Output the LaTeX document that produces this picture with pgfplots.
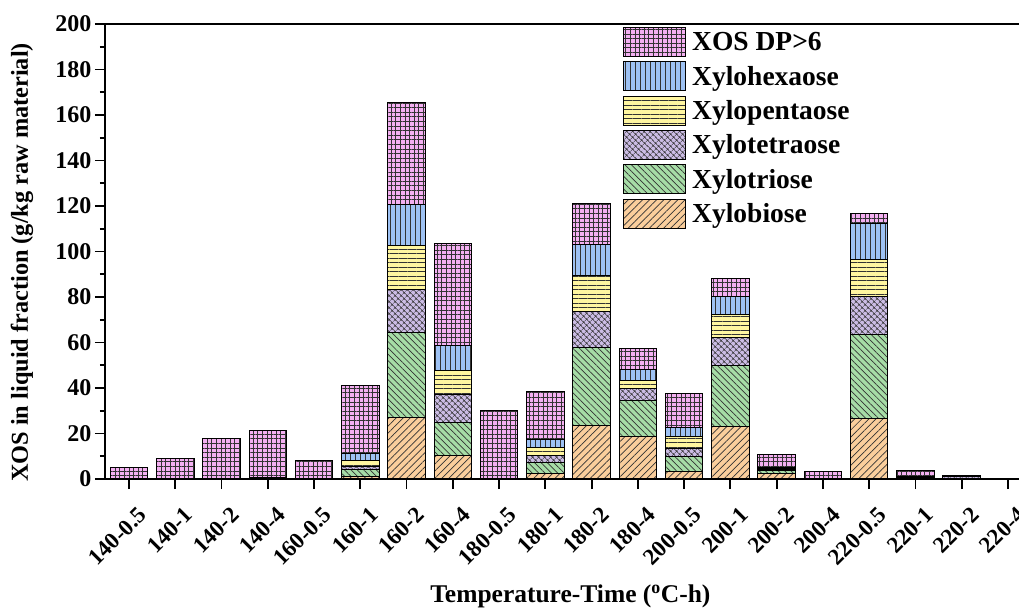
\documentclass[border=0pt]{standalone}
\usepackage{fontspec}
\setmainfont{Liberation Serif}
\usepackage{pgfplots}
\pgfplotsset{compat=1.18}
\usepackage{pgfplotstable}
\usetikzlibrary{patterns.meta}

\definecolor{cpink}{RGB}{244,176,242}
\definecolor{cblue}{RGB}{158,194,244}
\definecolor{cyellow}{RGB}{255,246,160}
\definecolor{cpurple}{RGB}{203,188,228}
\definecolor{cgreen}{RGB}{166,220,166}
\definecolor{corange}{RGB}{250,206,156}

\pgfplotstableread{
x ob gr pu ye bl pk
0 0 0 0 0 0 5.0
1 0 0 0 0 0 8.9
2 0 0 0 0 0 18.0
3 0.4 0.2 0.2 0 0 20.3
4 0 0 0 0 0 8.0
5 1.0 3.0 1.4 2.6 3.0 30.3
6 27.0 37.6 18.5 19.5 17.9 45.0
7 10.4 14.5 12.4 10.2 11.0 45.2
8 0 0 0 0 0 30.0
9 2.5 4.6 3.1 3.6 3.7 20.9
10 23.6 34.2 15.7 15.8 13.6 18.4
11 18.6 16.0 5.1 3.7 4.9 8.9
12 3.2 6.6 3.7 5.0 4.1 15.1
13 23.2 26.8 12.3 10.1 7.8 8.1
14 2.2 1.5 0.5 0.3 0.5 5.7
15 0 0 0 0 0 3.1
16 26.4 37.2 16.6 16.1 15.9 4.4
17 0.3 0.3 0.3 0.1 0.2 2.6
18 0.1 0.1 1.0 0.1 0.1 0
19 0 0 0 0 0 0
}\data

\pgfplotsset{
  mylegend/.style={legend image code/.code={\draw[##1] (0pt,-14.5pt) rectangle (62pt,14.5pt);}},
  mybar/.style 2 args={fill=#1, draw=black, line width=1pt,
     postaction={pattern={#2}, pattern color=black!80}, mylegend},
}

\begin{document}
\begin{tikzpicture}
\begin{axis}[
  name=ax,
  scale only axis, width=927pt, height=455pt,
  xmin=-0.519, xmax=19.52, ymin=0, ymax=200,
  ybar stacked, bar width=0.81,
  xtick={0,...,19},
  xticklabels={140-0.5,140-1,140-2,140-4,160-0.5,160-1,160-2,160-4,180-0.5,180-1,180-2,180-4,200-0.5,200-1,200-2,200-4,220-0.5,220-1,220-2,220-4},
  ytick={0,20,...,200}, minor y tick num=1,
  tick align=outside, xtick pos=bottom, ytick pos=left,
  major tick length=10pt, minor tick length=5pt,
  every tick/.style={black, line width=1.8pt},
  axis line style={line width=1.8pt},
  /pgf/number format/assume math mode=true,
  yticklabel style={font=\fontsize{24}{26}\selectfont\bfseries},
  xticklabel style={font=\fontsize{23}{25}\selectfont\bfseries, xshift=16pt, yshift=-20pt, rotate=45, anchor=east},
  ylabel={XOS in liquid fraction (g/kg raw material)},
  xlabel={Temperature-Time (\textsuperscript{o}C-h)},
  ylabel style={font=\fontsize{24.3}{26}\selectfont\bfseries, at={(axis description cs:-0.0895,0.476)}, anchor=center},
  xlabel style={font=\fontsize{25.5}{28}\selectfont\bfseries, at={(axis description cs:0.502,-0.259)}, anchor=center},
  reverse legend,
  legend cell align=left,
  legend style={at={(0.5588,0.9942)}, anchor=north west, draw=none, fill=none,
     font=\fontsize{27.5}{29}\selectfont\bfseries, row sep=4.4pt, inner sep=0pt,
     nodes={inner sep=2pt}, /tikz/every odd column/.append style={column sep=4pt}},
]
\addplot[mybar={corange}{Lines[angle=45,distance=5pt,line width=0.7pt]}] table[x=x,y=ob]{\data};
\addplot[mybar={cgreen}{Lines[angle=-45,distance=4.5pt,line width=0.7pt]}] table[x=x,y=gr]{\data};
\addplot[mybar={cpurple}{Hatch[angle=45,distance=4pt,line width=0.6pt]}] table[x=x,y=pu]{\data};
\addplot[mybar={cyellow}{Lines[angle=0,distance=4.5pt,line width=0.7pt]}] table[x=x,y=ye]{\data};
\addplot[mybar={cblue}{Lines[angle=90,distance=5pt,line width=0.7pt]}] table[x=x,y=bl]{\data};
\addplot[mybar={cpink}{Hatch[angle=0,distance=4.6pt,line width=0.6pt]}] table[x=x,y=pk]{\data};
\legend{Xylobiose,Xylotriose,Xylotetraose,Xylopentaose,Xylohexaose,XOS DP>6}
\end{axis}
\pgfresetboundingbox
\path ([shift={(-105pt,-130pt)}]ax.south west) rectangle ([shift={(914pt,479pt)}]ax.south west);
\end{tikzpicture}
\end{document}
